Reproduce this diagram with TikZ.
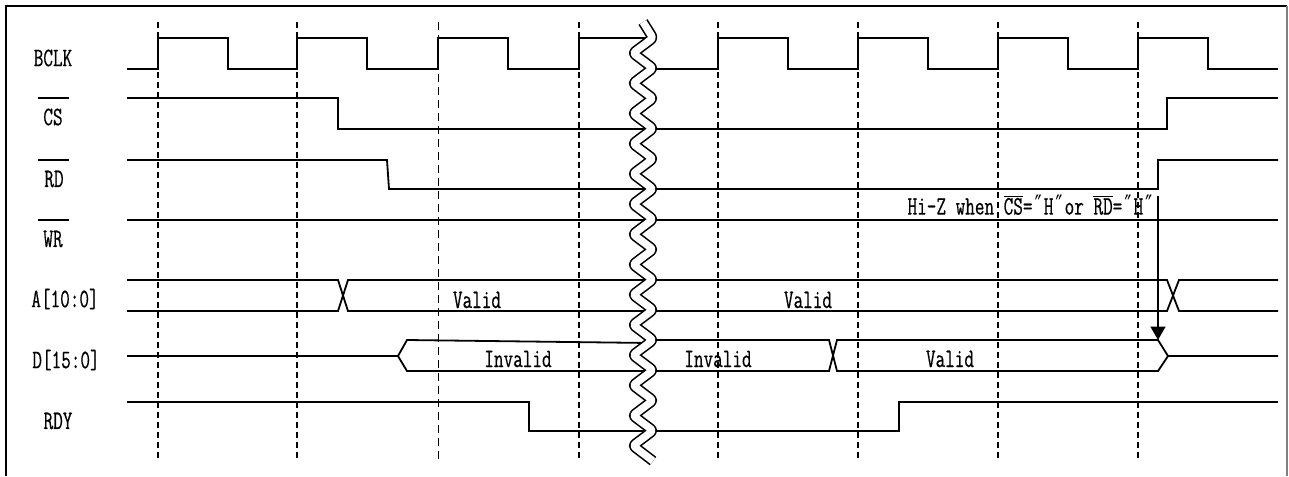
\documentclass[tikz,border=0pt]{standalone}
\usepackage{fontspec}
\usepackage{tikz}
\usetikzlibrary{arrows.meta}
\newfontfamily\sigfont[FakeStretch=0.7, FakeBold=0.5]{Latin Modern Mono}
\newfontfamily\primefont[FakeStretch=0.7]{DejaVu Sans Mono}
\newcommand\hzq{{\primefont ″}}

\begin{document}
\begin{tikzpicture}[
  x=0.75pt, y=-0.75pt,
  lbl/.style={inner sep=0pt, font=\sigfont\fontsize{20pt}{22pt}\selectfont},
  sig/.style={line width=1.35pt},
  tick/.style={line width=2pt, dash pattern=on 4.5pt off 3pt},
  tickthin/.style={line width=0.7pt, dash pattern=on 6pt off 3.75pt},
  brkout/.style={line width=8pt, rounded corners=2pt, line join=round},
  brkin/.style={white, line width=5.6pt, rounded corners=2pt, line join=round},
  arr/.style={-{Triangle[length=10pt, width=11pt]}, line width=1.6pt}
]
  \useasboundingbox (0,0) rectangle (1289,476);
  \draw[line width=1.4pt] (6,476) -- (6,6) -- (1287,6);
  \draw[gray, line width=0.8pt] (1287,6) -- (1287,476);

  % signal names
  \node[lbl] (bclk) at (53,58) {BCLK};
  \node[lbl] (cs) at (53,117) {CS};
  \node[lbl] (rd) at (54,179) {RD};
  \node[lbl] (wr) at (53,239) {WR};
  \node[lbl] (addr) at (65,299) {A[10:0]};
  \node[lbl] (data) at (66,360) {D[15:0]};
  \node[lbl] (rdy) at (58,421) {RDY};
  \foreach \y in {98,160,220} \draw[sig] (38,\y) -- (69,\y);

  % BCLK
  \draw[sig] (127,69) foreach \t in {158,297,438} { -- (\t,69) -- (\t,38) -- ({\t+70},38) -- ({\t+70},69) }
    -- (579,69) -- (579,38) -- (650,38);
  \draw[sig] (650,69) foreach \t in {718,858,998,1138} { -- (\t,69) -- (\t,38) -- ({\t+70},38) -- ({\t+70},69) }
    -- (1278,69);
  % CS, RD, WR
  \draw[sig] (127,98) -- (338,98) -- (338,129) -- (1167,129) -- (1167,98) -- (1278,98);
  \draw[sig] (127,160) -- (387,160) -- (389,189) -- (1158,189) -- (1158,160) -- (1278,160);
  \draw[sig] (127,220) -- (1278,220);
  % A[10:0]
  \draw[sig] (127,280) -- (338,280) -- (348,311) -- (1167,311) -- (1179,280) -- (1278,280);
  \draw[sig] (127,311) -- (338,311) -- (348,280) -- (1167,280) -- (1179,311) -- (1278,311);
  % D[15:0]
  \draw[sig] (127,356) -- (398,356) -- (407,340) -- (650,343);
  \draw[sig] (650,340) -- (829,340) -- (837,371) -- (1158,371) -- (1168,356) -- (1278,356);
  \draw[sig] (398,356) -- (407,371) -- (829,371) -- (837,340) -- (1158,340) -- (1168,356);
  % RDY
  \draw[sig] (127,402) -- (529,402) -- (529,431) -- (899,431) -- (899,402) -- (1278,402);

  \node[lbl] (aval1) at (477,300) {Valid};
  \node[lbl] (aval2) at (808,300) {Valid};
  \node[lbl] (dinv1) at (518,359) {Invalid};
  \node[lbl] (dinv2) at (718,359) {Invalid};
  \node[lbl] (dval) at (950,359) {Valid};
  \node[lbl] (hiz) at (1031,205) {Hi-Z when $\overline{\mbox{CS}}$=\hzq H\hzq or $\overline{\mbox{RD}}$=\hzq H\hzq};

  \foreach \x in {158,297,579,718,858,998,1138} \draw[tick] (\x,22) -- (\x,462);
  \draw[tickthin] (438,22) -- (438,462);

  % break
  \foreach \s in {brkout,brkin}
    \draw[\s] (643,22) foreach \k in {0,...,13} { -- (653,{38+30.2*\k}) -- (633,{53.1+30.2*\k}) } -- (653,461);

  \coordinate (hizarr) at (1158,196);
  \coordinate (dend) at (1158,340);
  \draw[arr] (hizarr) -- (dend);
\end{tikzpicture}
\end{document}
